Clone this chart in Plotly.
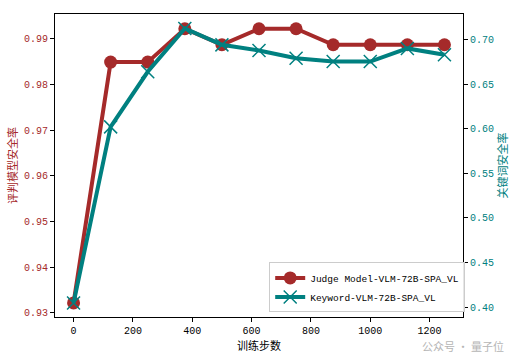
import plotly.graph_objects as go

steps = [0, 125, 250, 375, 500, 625, 750, 875, 1000, 1125, 1250]
judge_rate = [0.9322, 0.9849, 0.9849, 0.9922, 0.9887, 0.9922, 0.9922, 0.9887, 0.9887, 0.9887, 0.9887]
keyword_rate = [0.4045, 0.602, 0.6638, 0.7123, 0.694, 0.6877, 0.679, 0.6753, 0.6753, 0.690, 0.6828]
left_ticks = [0.93, 0.94, 0.95, 0.96, 0.97, 0.98, 0.99]
right_ticks = [0.40, 0.45, 0.50, 0.55, 0.60, 0.65, 0.70]
x_ticks = [0, 200, 400, 600, 800, 1000, 1200]

RED = "#A52A2A"
TEAL = "#008080"
MONO = "Liberation Mono, Noto Sans CJK SC"
CJK = "Noto Sans CJK SC"

fig = go.Figure()
fig.add_trace(go.Scatter(
    x=steps, y=judge_rate, name="Judge Model-VLM-72B-SPA_VL",
    mode="lines+markers", line=dict(color=RED, width=4),
    marker=dict(symbol="circle", size=13, color=RED), yaxis="y"))
fig.add_trace(go.Scatter(
    x=steps, y=keyword_rate, name="Keyword-VLM-72B-SPA_VL",
    mode="lines+markers", line=dict(color=TEAL, width=4),
    marker=dict(symbol="x-thin", size=13, color=TEAL, line=dict(color=TEAL, width=1.5)),
    yaxis="y2"))

fig.update_layout(
    width=516, height=355,
    margin=dict(l=55, r=53, t=14, b=38),
    paper_bgcolor="white", plot_bgcolor="white",
    showlegend=True,
    legend=dict(x=0.525, y=0.015, xanchor="left", yanchor="bottom",
                bgcolor="rgba(255,255,255,0.9)", bordercolor="#cccccc", borderwidth=1,
                font=dict(family=MONO, size=9.5, color="black"),
                tracegroupgap=0, itemwidth=30),
    xaxis=dict(range=[-62.5, 1312.5], tickvals=x_ticks, ticktext=[str(v) for v in x_ticks],
               automargin=False,
               showgrid=False, zeroline=False, showline=True, linecolor="black", linewidth=1,
               mirror=True, ticks="outside", ticklen=4, tickcolor="black",
               tickfont=dict(family=MONO, size=10, color="black"),
               title=dict(text="训练步数", font=dict(family=CJK, size=11, color="black"), standoff=3)),
    yaxis=dict(range=[0.92912, 0.99543], tickvals=left_ticks,
               ticktext=["%.2f" % v for v in left_ticks], automargin=False,
               showgrid=False, zeroline=False, showline=True, linecolor="black", linewidth=1,
               ticks="outside", ticklen=4, tickcolor="black",
               tickfont=dict(family=MONO, size=10, color=RED),
               title=dict(text="评判模型安全率", font=dict(family=CJK, size=11, color=RED), standoff=4)),
    yaxis2=dict(range=[0.3888, 0.7286], tickvals=right_ticks,
                ticktext=["%.2f" % v for v in right_ticks], automargin=False,
                overlaying="y", side="right",
                showgrid=False, zeroline=False, showline=True, linecolor="black", linewidth=1,
                ticks="outside", ticklen=4, tickcolor="black",
                tickfont=dict(family=MONO, size=10, color=TEAL),
                title=dict(text="关键词安全率", font=dict(family=CJK, size=11, color=TEAL), standoff=4)),
)
fig.add_annotation(text="公众号 · 量子位", xref="paper", yref="paper", x=1.105, y=-0.095,
                   xanchor="right", yanchor="middle", showarrow=False,
                   font=dict(family=CJK, size=11, color="#b5b5b5"))

fig.write_html("out.html", config={"displayModeBar": False},
               post_script="document.body.style.margin='0';")
